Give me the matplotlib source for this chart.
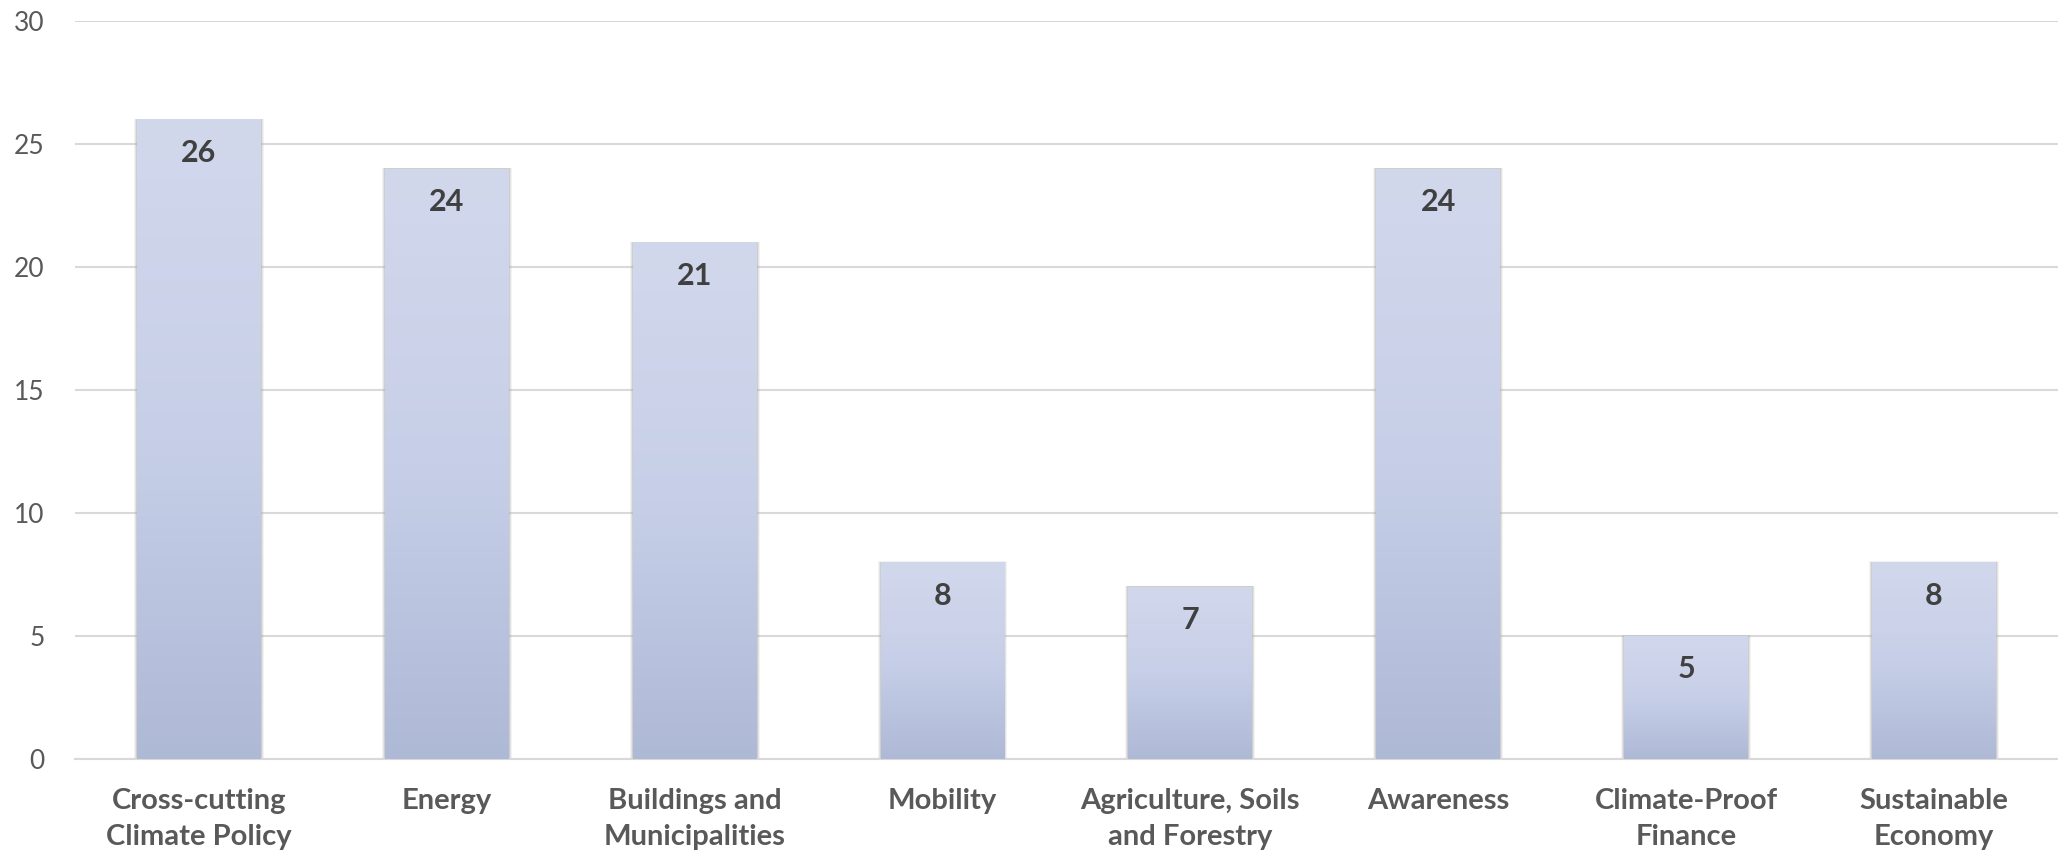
import numpy as np
import matplotlib
matplotlib.use("Agg")
import matplotlib.pyplot as plt
from matplotlib.colors import LinearSegmentedColormap

categories = ["Cross-cutting\nClimate Policy", "Energy", "Buildings and\nMunicipalities",
              "Mobility", "Agriculture, Soils\nand Forestry", "Awareness",
              "Climate-Proof\nFinance", "Sustainable\nEconomy"]
values = [26, 24, 21, 8, 7, 24, 5, 8]
yticks = [0, 5, 10, 15, 20, 25, 30]

plt.rcParams['font.family'] = ['Lato', 'DejaVu Sans']

fig = plt.figure(figsize=(20.58, 8.55), dpi=100)
ax = fig.add_axes([0.0364, 0.1123, 0.9636, 0.8631])

x = np.arange(len(values))
bars = ax.bar(x, values, width=0.5, color='none', zorder=3)

# vertical gradient, light at top, darker at bottom
cmap = LinearSegmentedColormap.from_list('bar', ['#aeb9d6', '#c7cfe8', '#d2d8ec'])
grad = np.linspace(0, 1, 256).reshape(-1, 1)
for b in bars:
    x0, w, h = b.get_x(), b.get_width(), b.get_height()
    # soft shadow around the bar
    for k, a in [(0.012, 0.15), (0.008, 0.25), (0.004, 0.4)]:
        ax.add_patch(plt.Rectangle((x0 - k, -0.1), w + 2 * k, h + 0.1 + k * 3,
                                   facecolor='#b0b0b0', edgecolor='none', alpha=a, zorder=2))
    im = ax.imshow(grad, cmap=cmap, aspect='auto', extent=(x0, x0 + w, 0, h),
                   origin='lower', zorder=3)
    im.set_clip_path(b)
    ax.annotate(str(int(h)), (x0 + w / 2, h), xytext=(0, -24), textcoords='offset points',
                ha='center', va='center', fontsize=22, fontweight='bold', color='#404040',
                zorder=5)

ax.set_xlim(-0.5, len(values) - 0.5)
ax.set_ylim(0, 30)
ax.set_yticks(yticks)
ax.set_xticks(x)
ax.set_xticklabels(categories, fontsize=21, fontweight='bold', color='#595959',
                   linespacing=1.45)
ax.tick_params(axis='y', labelsize=19, labelcolor='#595959', length=0, pad=22)
ax.tick_params(axis='x', length=0, pad=21)
ax.yaxis.grid(True, color='#d9d9d9', linewidth=1.5, zorder=0)
ax.set_axisbelow(True)
for s in ['top', 'right', 'left']:
    ax.spines[s].set_visible(False)
ax.spines['bottom'].set_color('#d9d9d9')
ax.spines['bottom'].set_linewidth(1.5)

fig.savefig('out.png', dpi=100)
